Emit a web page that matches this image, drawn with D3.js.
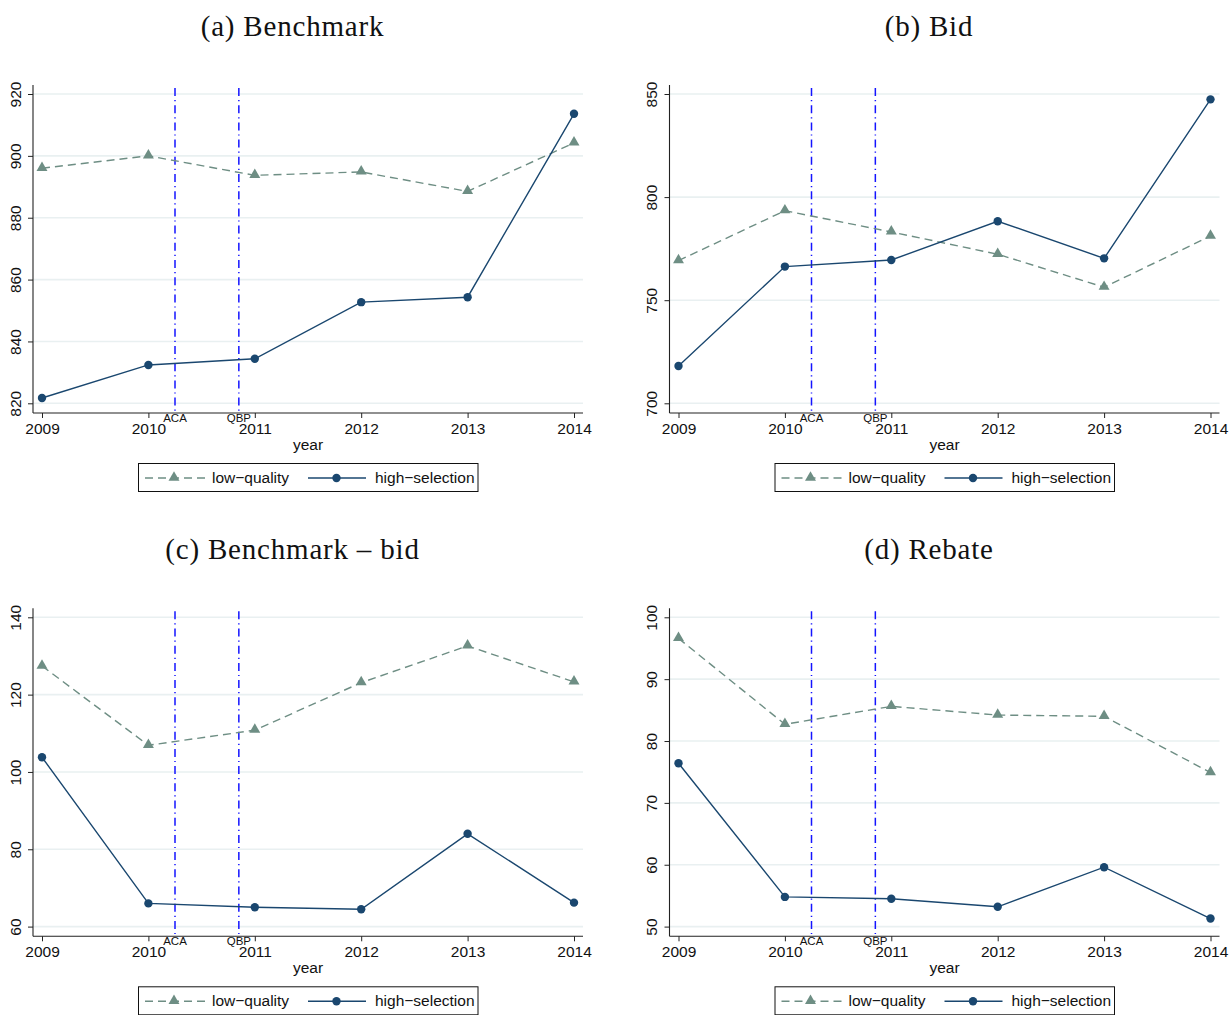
<!DOCTYPE html>
<html>
<head>
<meta charset="utf-8">
<script src="https://cdn.jsdelivr.net/npm/d3@7"></script>
<style>
  html, body { margin: 0; padding: 0; background: #fff; }
  svg { display: block; }
</style>
</head>
<body>
<div id="chart"></div>
<script>
// ---------- data ----------
const years = [2009, 2010, 2011, 2012, 2013, 2014];
const seriesNames = ["low\u2212quality", "high\u2212selection"];
const panelTitles = ["(a) Benchmark", "(b) Bid", "(c) Benchmark \u2013 bid", "(d) Rebate"];

const benchmarkLow  = [896.0, 900.0, 893.7, 894.8, 888.5, 904.2];
const benchmarkHigh = [821.7, 832.4, 834.4, 852.7, 854.3, 913.6];

const bidLow  = [769.2, 793.4, 783.1, 772.3, 756.3, 781.1];
const bidHigh = [718.1, 766.3, 769.5, 788.3, 770.3, 847.4];

const diffLow  = [127.4, 106.9, 110.8, 123.1, 132.6, 123.3];
const diffHigh = [103.8, 66.0, 65.0, 64.5, 84.0, 66.2];

const rebateLow  = [96.6, 82.7, 85.6, 84.2, 84.0, 74.9];
const rebateHigh = [76.4, 54.8, 54.5, 53.2, 59.6, 51.3];

const benchmarkTicks = [820, 840, 860, 880, 900, 920];
const bidTicks = [700, 750, 800, 850];
const diffTicks = [60, 80, 100, 120, 140];
const rebateTicks = [50, 60, 70, 80, 90, 100];

const eventLines = [{label: "ACA", x: 2010.25}, {label: "QBP", x: 2010.85}];

// ---------- style ----------
const W = 1229, H = 1015;
const colLow = "#6e8e84", colHigh = "#1a476f", colEvent = "#1414ff", colGrid = "#e9f0f1";
const sans = "'Liberation Sans', Arial, Helvetica, sans-serif";
const serif = "'Liberation Serif', 'Times New Roman', serif";

const panels = [
  {title: panelTitles[0], low: benchmarkLow, high: benchmarkHigh, ticks: benchmarkTicks, ox: 0, oy: 0},
  {title: panelTitles[1], low: bidLow, high: bidHigh, ticks: bidTicks, ox: 636.5, oy: 0},
  {title: panelTitles[2], low: diffLow, high: diffHigh, ticks: diffTicks, ox: 0, oy: 523.3},
  {title: panelTitles[3], low: rebateLow, high: rebateHigh, ticks: rebateTicks, ox: 636.5, oy: 523.3}
];

const svg = d3.select("#chart").append("svg")
  .attr("width", W).attr("height", H)
  .style("background", "#fff");

const triangle = d3.symbol().type(d3.symbolTriangle).size(52);

panels.forEach((p, i) => {
  const g = svg.append("g").attr("transform", `translate(${p.ox},${p.oy})`);
  const axisX = 33, axisRight = 583, axisTop = 85, axisBottom = 413;
  const x = d3.scaleLinear().domain([years[0], years[years.length - 1]]).range([42, 574]);
  const y = d3.scaleLinear().domain([p.ticks[0], p.ticks[p.ticks.length - 1]]).range([403.3, 94]);

  // title
  g.append("text")
    .attr("x", 292.5).attr("y", 36)
    .attr("text-anchor", "middle")
    .style("font-family", serif).style("font-size", "29px")
    .style("letter-spacing", "0.8px")
    .style("fill", "#111")
    .text(p.title);

  // gridlines
  g.append("g").selectAll("line").data(p.ticks).join("line")
    .attr("x1", axisX).attr("x2", axisRight)
    .attr("y1", d => y(d)).attr("y2", d => y(d))
    .attr("stroke", colGrid).attr("stroke-width", 1.6);

  // event lines
  eventLines.forEach(ev => {
    g.append("line")
      .attr("x1", x(ev.x)).attr("x2", x(ev.x))
      .attr("y1", 88).attr("y2", axisBottom)
      .attr("stroke", colEvent).attr("stroke-width", 1.5)
      .attr("stroke-dasharray", "8,4,1.2,4");
  });

  // x axis
  const xAxis = g.append("g")
    .attr("transform", `translate(0,${axisBottom})`)
    .call(d3.axisBottom(x).tickValues(years).tickFormat(d3.format("d")).tickSize(5).tickSizeOuter(0));
  xAxis.select(".domain").attr("d", `M${axisX},0H${axisRight}`).attr("stroke", "#222").attr("stroke-width", 1.1);
  xAxis.selectAll(".tick line").attr("stroke", "#222").attr("stroke-width", 1);
  xAxis.selectAll(".tick text")
    .attr("y", 21).attr("dy", 0)
    .style("font-family", sans).style("font-size", "15.5px").style("fill", "#111");

  // y axis
  const yAxis = g.append("g")
    .attr("transform", `translate(${axisX},0)`)
    .call(d3.axisLeft(y).tickValues(p.ticks).tickFormat(d3.format("d")).tickSize(5).tickSizeOuter(0));
  yAxis.select(".domain").attr("d", `M0,${axisTop}V${axisBottom}`).attr("stroke", "#222").attr("stroke-width", 1.1);
  yAxis.selectAll(".tick line").attr("stroke", "#222").attr("stroke-width", 1);
  yAxis.selectAll(".tick text")
    .attr("x", 0).attr("y", 0).attr("dy", 0)
    .attr("transform", "translate(-12.3,0) rotate(-90)")
    .attr("text-anchor", "middle")
    .style("font-family", sans).style("font-size", "15.5px").style("fill", "#111");

  // event labels
  eventLines.forEach(ev => {
    g.append("text")
      .attr("x", x(ev.x)).attr("y", 421.5)
      .attr("text-anchor", "middle")
      .style("font-family", sans).style("font-size", "11.5px").style("fill", "#111")
      .text(ev.label);
  });

  // axis title
  g.append("text")
    .attr("x", (axisX + axisRight) / 2).attr("y", 450)
    .attr("text-anchor", "middle")
    .style("font-family", sans).style("font-size", "15.5px").style("fill", "#111")
    .text("year");

  // series
  const line = d3.line().x((d, j) => x(years[j])).y(d => y(d));
  g.append("path").datum(p.low)
    .attr("d", line).attr("fill", "none")
    .attr("stroke", colLow).attr("stroke-width", 1.4).attr("stroke-dasharray", "8,5");
  g.append("path").datum(p.high)
    .attr("d", line).attr("fill", "none")
    .attr("stroke", colHigh).attr("stroke-width", 1.4);

  g.append("g").selectAll("path").data(p.low).join("path")
    .attr("d", triangle)
    .attr("transform", (d, j) => `translate(${x(years[j])},${y(d) - 0.5})`)
    .attr("fill", colLow);
  g.append("g").selectAll("circle").data(p.high).join("circle")
    .attr("cx", (d, j) => x(years[j])).attr("cy", d => y(d)).attr("r", 4.2)
    .attr("fill", colHigh);

  // legend
  const lg = g.append("g");
  lg.append("rect").attr("x", 138.5).attr("y", 463.5).attr("width", 339.5).attr("height", 28)
    .attr("fill", "#fff").attr("stroke", "#111").attr("stroke-width", 1);
  const ly = 478;
  lg.append("line").attr("x1", 145).attr("x2", 205).attr("y1", ly).attr("y2", ly)
    .attr("stroke", colLow).attr("stroke-width", 1.4).attr("stroke-dasharray", "8,5");
  lg.append("path").attr("d", triangle).attr("transform", `translate(174,${ly - 0.5})`).attr("fill", colLow);
  lg.append("text").attr("x", 212).attr("y", 482.5)
    .style("font-family", sans).style("font-size", "15.5px").style("fill", "#111")
    .text(seriesNames[0]);
  lg.append("line").attr("x1", 308).attr("x2", 366).attr("y1", ly).attr("y2", ly)
    .attr("stroke", colHigh).attr("stroke-width", 1.4);
  lg.append("circle").attr("cx", 336.5).attr("cy", ly).attr("r", 4.2).attr("fill", colHigh);
  lg.append("text").attr("x", 375).attr("y", 482.5)
    .style("font-family", sans).style("font-size", "15.5px").style("fill", "#111")
    .text(seriesNames[1]);
});
</script>
</body>
</html>
